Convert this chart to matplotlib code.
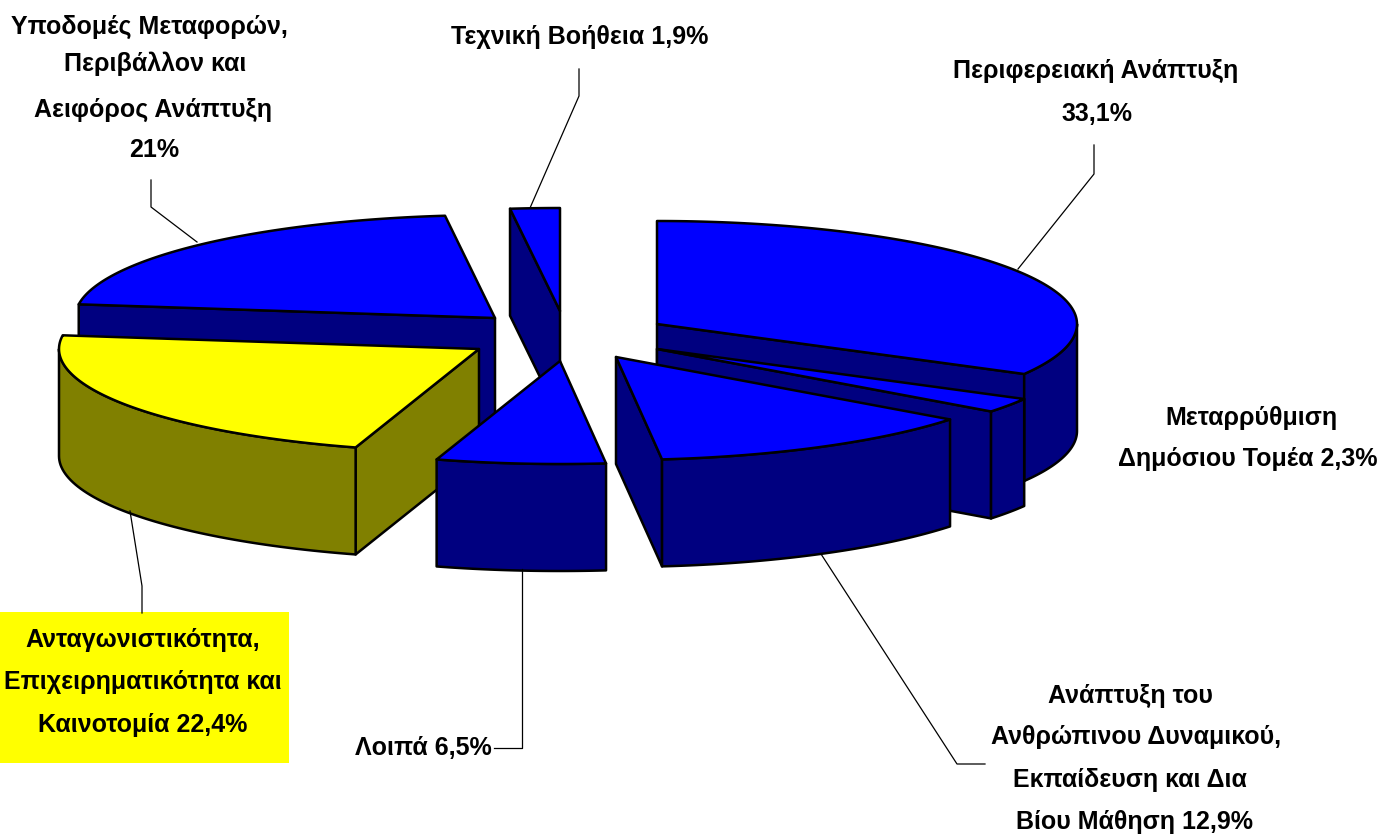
import numpy as np
import matplotlib
matplotlib.use("Agg")
import matplotlib.pyplot as plt
from matplotlib.patches import Polygon, Rectangle

plt.rcParams['font.family'] = ['Liberation Sans', 'DejaVu Sans']

# Data: shares in percent, clockwise from 12 o'clock
slice_names = ["Περιφερειακή Ανάπτυξη", "Μεταρρύθμιση Δημόσιου Τομέα",
               "Ανάπτυξη του Ανθρώπινου Δυναμικού, Εκπαίδευση και Δια Βίου Μάθηση",
               "Λοιπά", "Ανταγωνιστικότητα, Επιχειρηματικότητα και Καινοτομία",
               "Υποδομές Μεταφορών, Περιβάλλον και Αειφόρος Ανάπτυξη", "Τεχνική Βοήθεια"]
slice_values = [33.1, 2.3, 12.9, 6.5, 22.4, 21.0, 1.9]

# Styling / layout (pixel space)
apex_x = [657, 657, 616, 560, 479, 495, 560]
apex_y = [325, 350, 358, 362, 350, 319, 312]
top_col = ['#0000FF', '#0000FF', '#0000FF', '#0000FF', '#FFFF00', '#0000FF', '#0000FF']
side_col = ['#000080', '#000080', '#000080', '#000080', '#808000', '#000080', '#000080']
draw_order = [6, 5, 4, 3, 0, 1, 2]
RX, RY, H = 420, 103, 107
EC, LW = 'black', 1.8

fig = plt.figure(figsize=(13.84, 8.37), dpi=100, facecolor='white')
ax = fig.add_axes([0, 0, 1, 1])
ax.set_xlim(0, 1384)
ax.set_ylim(837, 0)
ax.axis('off')

edges = np.concatenate([[0], np.cumsum(slice_values)]) / np.sum(slice_values) * 360


def rim(cx, cy, a):
    a = np.radians(a)
    return np.column_stack([cx + RX * np.sin(a), cy - RY * np.cos(a)])


def wall(pts, col, z):
    down = pts[::-1] + [0, H]
    ax.add_patch(Polygon(np.vstack([pts, down]), closed=True, fc=col, ec=EC, lw=LW,
                         joinstyle='round', zorder=z))


for n, i in enumerate(draw_order):
    a1, a2 = edges[i], edges[i + 1]
    cx, cy = apex_x[i], apex_y[i]
    z = 2 + n
    centre = np.array([[cx, cy]], float)
    if np.sin(np.radians(a1)) < 0:
        wall(np.vstack([centre, rim(cx, cy, [a1])]), side_col[i], z)
    if np.sin(np.radians(a2)) > 0:
        wall(np.vstack([centre, rim(cx, cy, [a2])]), side_col[i], z)
    lo, hi = max(a1, 90), min(a2, 270)
    if lo < hi:
        wall(rim(cx, cy, np.linspace(lo, hi, 60)), side_col[i], z)
    ax.add_patch(Polygon(np.vstack([centre, rim(cx, cy, np.linspace(a1, a2, 120))]),
                         closed=True, fc=top_col[i], ec=EC, lw=LW, joinstyle='round', zorder=z))

# Leader lines
leaders = [
    [(1018, 270), (1094, 175), (1094, 146)],
    [(821, 555), (957, 765), (985, 765)],
    [(522, 570), (522, 749), (494, 749)],
    [(130, 512), (142, 587), (142, 614)],
    [(197, 243), (151, 208), (151, 181)],
    [(530, 209), (579, 97), (579, 70)],
]
for l in leaders:
    xs, ys = zip(*l)
    ax.plot(xs, ys, color='black', lw=0.9, zorder=20)

ax.add_patch(Rectangle((0, 613), 289, 151, fc='#FFFF00', ec='none', zorder=1))

labels = [
    (149, 27, "Υποδομές Μεταφορών,"), (155, 64, "Περιβάλλον και"),
    (153, 110, "Αειφόρος Ανάπτυξη"), (154, 150, "21%"),
    (580, 37, "Τεχνική Βοήθεια 1,9%"),
    (1096, 71, "Περιφερειακή Ανάπτυξη"), (1097, 114, "33,1%"),
    (1251, 418, "Μεταρρύθμιση"), (1248, 459, "Δημόσιου Τομέα 2,3%"),
    (1130, 696, "Ανάπτυξη του"), (1136, 737, "Ανθρώπινου Δυναμικού,"),
    (1130, 780, "Εκπαίδευση και Δια"), (1135, 822, "Βίου Μάθηση 12,9%"),
    (423, 748, "Λοιπά 6,5%"),
    (143, 640, "Ανταγωνιστικότητα,"), (143, 682, "Επιχειρηματικότητα και"),
    (143, 725, "Καινοτομία 22,4%"),
]
for x, y, s in labels:
    ax.text(x, y, s, ha='center', va='center', fontsize=18, fontweight='bold',
            color='black', zorder=30)

fig.savefig('out.png', dpi=100, facecolor='white')
